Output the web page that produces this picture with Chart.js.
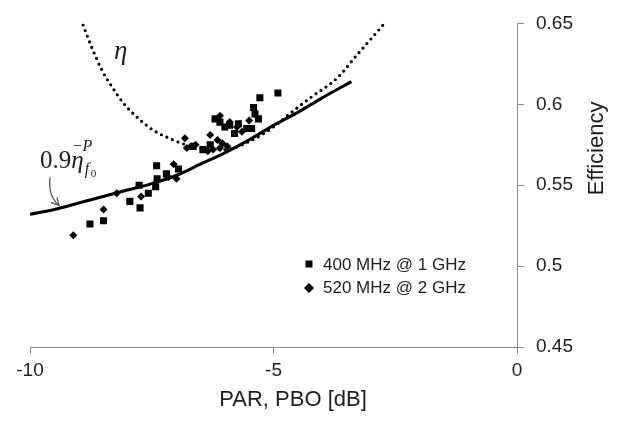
<!DOCTYPE html>
<html>
<head>
<meta charset="utf-8">
<title>Efficiency vs PAR</title>
<script src="https://cdn.jsdelivr.net/npm/chart.js@4.4.1/dist/chart.umd.min.js"></script>
<style>
  html, body { margin: 0; padding: 0; background: #fff; }
  #wrap { width: 619px; height: 421px; position: relative; }
</style>
</head>
<body>
<div id="wrap"><canvas id="chart"></canvas></div>
<script>
// measured points, 400 MHz @ 1 GHz (squares)
const sqX = [-8.77, -8.49, -7.95, -7.74, -7.76, -7.57, -7.42, -7.40, -7.39, -7.20, -6.95,
  -6.65, -6.45, -6.30, -6.20, -6.10, -6.00, -5.90, -5.80, -5.72, -5.55, -5.45,
  -5.41, -5.38, -5.31, -5.28, -4.91];
const sqY = [0.526, 0.528, 0.540, 0.536, 0.550, 0.545, 0.549, 0.562, 0.554, 0.557, 0.560,
  0.574, 0.572, 0.575, 0.591, 0.589, 0.586, 0.587, 0.582, 0.588, 0.585, 0.585,
  0.598, 0.594, 0.591, 0.604, 0.607];

// measured points, 520 MHz @ 2 GHz (diamonds)
const diX = [-9.11, -8.49, -8.22, -7.72, -7.16, -6.99, -7.05, -6.82, -6.78, -6.60, -6.35,
  -6.24, -6.10, -5.95, -6.30, -6.15, -6.05, -6.10, -5.90, -5.75, -5.65, -5.50];
const diY = [0.519, 0.535, 0.545, 0.543, 0.555, 0.554, 0.563, 0.579, 0.573, 0.575, 0.571,
  0.572, 0.573, 0.574, 0.581, 0.578, 0.576, 0.593, 0.589, 0.586, 0.583, 0.590];

// 0.9 eta_f0^-P  (solid)
const fitX = [-10, -9.5, -9, -8.5, -8, -7.5, -7, -6.5, -6, -5.5, -5, -4.5, -4, -3.4];
const fitY = [0.532, 0.535, 0.539, 0.543, 0.547, 0.551, 0.556, 0.563, 0.570, 0.578, 0.587, 0.595, 0.604, 0.614];

// eta (dotted)
const etaX = [-8.91, -8.73, -8.52, -8.32, -8.09, -7.8, -7.47, -7.06, -6.8, -6.5, -6.0, -5.5, -5.0, -4.59, -4.2, -3.7, -3.3, -2.75];
const etaY = [0.649, 0.635, 0.621, 0.611, 0.601, 0.592, 0.584, 0.578, 0.575, 0.573, 0.572, 0.577, 0.586, 0.596, 0.605, 0.616, 0.630, 0.649];

const seriesNames = ['400 MHz @ 1 GHz', '520 MHz @ 2 GHz'];
const xTicks = [-10, -5, 0];
const yTicks = [0.45, 0.5, 0.55, 0.6, 0.65];
const xTitle = 'PAR, PBO [dB]';
const yTitle = 'Efficiency';

function pts(xs, ys) {
  return xs.map((x, i) => ({ x: x, y: ys[i] }));
}

const axisGrey = '#8c8c8c';
const textCol = '#1e1e1e';
const sans = '"Liberation Sans", Arial, sans-serif';
const serif = '"Liberation Serif", "Times New Roman", serif';

Chart.defaults.font.family = sans;
Chart.defaults.color = textCol;

// titles, legend and the curve labels
const extras = {
  id: 'extras',
  afterDraw(chart) {
    const ctx = chart.ctx;
    const a = chart.chartArea;
    ctx.save();
    ctx.fillStyle = textCol;

    ctx.font = '22px ' + sans;
    ctx.textAlign = 'center';
    ctx.textBaseline = 'middle';
    ctx.fillText(xTitle, a.left + 263, a.bottom + 53);
    ctx.save();
    ctx.translate(a.right + 80, a.top + 125);
    ctx.rotate(-Math.PI / 2);
    ctx.fillText(yTitle, 0, 0);
    ctx.restore();

    // legend
    const lx = a.right - 208;
    const ly = a.bottom - 83;
    ctx.fillStyle = '#000';
    ctx.fillRect(lx - 3.5, ly - 3.5, 7, 7);
    ctx.beginPath();
    ctx.moveTo(lx, ly + 24 - 5);
    ctx.lineTo(lx + 5, ly + 24);
    ctx.lineTo(lx, ly + 24 + 5);
    ctx.lineTo(lx - 5, ly + 24);
    ctx.closePath();
    ctx.fill();
    ctx.fillStyle = textCol;
    ctx.font = '17px ' + sans;
    ctx.textAlign = 'left';
    ctx.fillText(seriesNames[0], lx + 14, ly + 1);
    ctx.fillText(seriesNames[1], lx + 14, ly + 24);

    // eta label
    ctx.textBaseline = 'alphabetic';
    ctx.font = 'italic 27px ' + serif;
    ctx.fillText('\u03b7', a.left + 84, a.top + 36);

    // 0.9 eta_f0^-P label
    const bx = a.left + 10, by = a.top + 145;
    ctx.font = '25px ' + serif;
    ctx.fillText('0.9', bx, by);
    let w = ctx.measureText('0.9').width;
    ctx.font = 'italic 25px ' + serif;
    ctx.fillText('\u03b7', bx + w, by);
    w += ctx.measureText('\u03b7').width;
    ctx.font = 'italic 16px ' + serif;
    ctx.fillText('\u2212P', bx + w - 12, by - 17);
    ctx.fillText('f', bx + w + 1, by + 6);
    ctx.font = '11px ' + serif;
    ctx.fillText('0', bx + w + 7, by + 9);

    // arrow
    ctx.strokeStyle = '#555';
    ctx.lineWidth = 1.3;
    ctx.beginPath();
    ctx.moveTo(a.left + 20, a.top + 154);
    ctx.quadraticCurveTo(a.left + 18, a.top + 172, a.left + 28, a.top + 181);
    ctx.stroke();
    ctx.beginPath();
    ctx.moveTo(a.left + 21, a.top + 179);
    ctx.lineTo(a.left + 29, a.top + 182);
    ctx.lineTo(a.left + 27, a.top + 174);
    ctx.stroke();
    ctx.restore();
  }
};

const data = {
  datasets: [{
    label: 'fit',
    data: pts(fitX, fitY),
    showLine: true,
    borderColor: '#000',
    borderWidth: 3,
    pointRadius: 0,
    cubicInterpolationMode: 'monotone',
    order: 1
  }, {
    label: 'eta',
    data: pts(etaX, etaY),
    showLine: true,
    borderColor: '#000',
    borderWidth: 3.2,
    borderDash: [0, 6],
    borderCapStyle: 'round',
    pointRadius: 0,
    cubicInterpolationMode: 'monotone',
    order: 2
  }, {
    label: seriesNames[0],
    data: pts(sqX, sqY),
    pointStyle: 'rect',
    pointRadius: 5,
    backgroundColor: '#000',
    borderColor: '#000',
    borderWidth: 0,
    order: 0
  }, {
    label: seriesNames[1],
    data: pts(diX, diY),
    pointStyle: 'rectRot',
    pointRadius: 4,
    backgroundColor: '#000',
    borderColor: '#000',
    borderWidth: 0,
    order: 0
  }]
};

const config = {
  type: 'scatter',
  data: data,
  options: {
    responsive: true,
    maintainAspectRatio: false,
    animation: false,
    layout: { padding: { left: 30, top: 14, right: 0, bottom: 0 } },
    plugins: {
      legend: { display: false },
      tooltip: { enabled: false }
    },
    scales: {
      x: {
        type: 'linear',
        min: -10,
        max: 0,
        afterBuildTicks: (s) => { s.ticks = xTicks.map(v => ({ value: v })); },
        afterFit: (s) => { s.height = 74; },
        grid: { drawOnChartArea: false, tickLength: 7, color: axisGrey },
        border: { color: axisGrey, width: 1 },
        ticks: {
          font: { size: 19 },
          color: textCol,
          padding: 5,
          maxRotation: 0,
          callback: (v) => String(v)
        }
      },
      y: {
        type: 'linear',
        position: 'right',
        min: 0.45,
        max: 0.65,
        afterBuildTicks: (s) => { s.ticks = yTicks.map(v => ({ value: v })); },
        afterFit: (s) => { s.width = 102; },
        grid: { drawOnChartArea: false, tickLength: 7, color: axisGrey },
        border: { color: axisGrey, width: 1 },
        ticks: {
          font: { size: 19 },
          color: textCol,
          padding: 12,
          callback: (v) => String(+v.toFixed(2))
        }
      }
    }
  },
  plugins: [extras]
};

new Chart(document.getElementById('chart'), config);
</script>
</body>
</html>
